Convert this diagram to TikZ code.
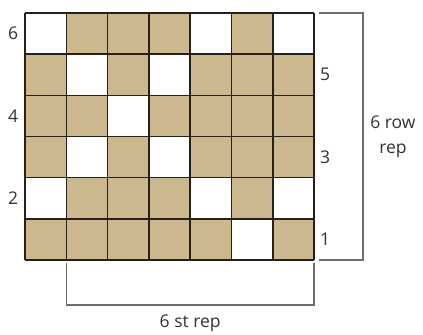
\documentclass[tikz,border=0pt]{standalone}
\usepackage{fontspec}
\setmainfont{Open Sans}
\usepackage{xcolor}
\usepackage{tikz}
\usetikzlibrary{positioning}

\definecolor{stitchtan}{RGB}{204,184,142}
\definecolor{gridbrown}{RGB}{40,32,22}
\definecolor{bracegray}{RGB}{110,110,110}

\begin{document}
\begin{tikzpicture}[
  x=41.3pt, y=-41.17pt,
  every node/.style={font=\fontsize{17.5}{25}\selectfont, text=black!80, inner sep=0pt},
  tan/.style={fill=stitchtan},
  blank/.style={fill=white},
  gridln/.style={draw=gridbrown, line width=1.5pt},
  brace/.style={draw=bracegray, line width=1.5pt},
  rowlbl/.style={anchor=center},
]
  \useasboundingbox (-0.605,-0.316) rectangle (9.637,7.797);

  % chart cells
  \fill[tan] (0,0) rectangle (7,6);
  \foreach \c/\r in {1/1,5/1,7/1, 2/2,4/2, 3/3, 2/4,4/4, 1/5,5/5,7/5, 6/6}
    \fill[blank] (\c-1,\r-1) rectangle (\c,\r);
  \foreach \i in {0,...,7}
    \draw[gridln] (\i,0) -- (\i,6);
  \foreach \j in {0,...,6}
    \draw[gridln] (0,\j) -- (7,\j);

  % row numbers
  \node[rowlbl] (row6) at (-0.29,0.5) {6};
  \node[rowlbl] (row4) at (-0.29,2.5) {4};
  \node[rowlbl] (row2) at (-0.29,4.5) {2};
  \node[anchor=west] (row5) at (7.14,1.5) {5};
  \node[anchor=west] (row3) at (7.14,3.5) {3};
  \node[anchor=west] (row1) at (7.14,5.5) {1};

  % row repeat
  \coordinate (rtop) at (7.12,0);
  \coordinate (rtopend) at (8.18,0);
  \coordinate (rbot) at (7.12,6);
  \coordinate (rbotend) at (8.18,6);
  \draw[brace] (rtop) -- (rtopend) -- (rbotend) -- (rbot);
  \node[align=center] (rowrep) at (8.91,3.0) {6 row\\rep};

  % stitch repeat
  \coordinate (sleft) at (1,6.07);
  \coordinate (sleftend) at (1,7.09);
  \coordinate (sright) at (7,6.07);
  \coordinate (srightend) at (7,7.09);
  \draw[brace] (sleft) -- (sleftend) -- (srightend) -- (sright);
  \node (strep) at (4,7.53) {6 st rep};
\end{tikzpicture}
\end{document}
